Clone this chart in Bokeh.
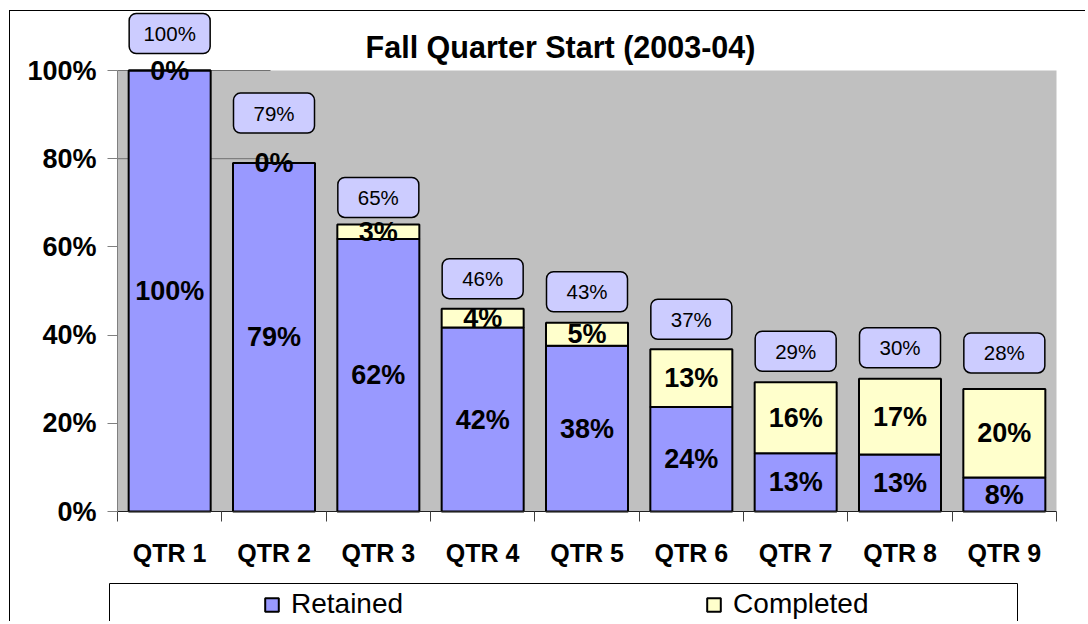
from bokeh.plotting import figure
from bokeh.models import (Range1d, FixedTicker, Label, Legend, LegendItem,
                          BoxAnnotation, ColumnDataSource, PrintfTickFormatter)
from bokeh.core.properties import value
from bokeh.embed import file_html
from bokeh.resources import INLINE

# ---------------- data ----------------
categories = ["QTR 1", "QTR 2", "QTR 3", "QTR 4", "QTR 5", "QTR 6", "QTR 7", "QTR 8", "QTR 9"]
retained = [100, 79, 61.8, 41.7, 37.6, 23.7, 13.2, 12.9, 7.7]
completed = [0, 0, 3.3, 4.3, 5.2, 13.1, 16.1, 17.2, 20.1]
y_ticks = [0, 20, 40, 60, 80, 100]
series_names = ["Retained", "Completed"]
title_text = "Fall Quarter Start (2003-04)"

# ---------------- layout / style constants (pixels) ----------------
FONT = "Liberation Sans"
W, H = 1076, 611                 # canvas size; canvas origin on page = (10, 11)
ORIGIN_X, ORIGIN_Y = 10, 11
PLOT_L, PLOT_R = 117, 1056       # plot area on page
PLOT_T, PLOT_B = 70, 511
N = len(categories)
Y_TOP = max(y_ticks)
UPX = (PLOT_R - PLOT_L) / N      # pixels per x unit
PPU = (PLOT_B - PLOT_T) / Y_TOP  # pixels per y unit


def px_x(px):   # page x pixel -> data x
    return (px - PLOT_L) / UPX


def px_y(py):   # page y pixel -> data y
    return (PLOT_B - py) / PPU


BAR_W = 0.786
BOX_W_PX, BOX_H_PX = 81, 40
callout_offsets_px = [37, 50, 27, 30, 31, 30, 31, 31, 36]

xs = [i + 0.5 for i in range(N)]
totals = [r + c for r, c in zip(retained, completed)]
box_y = [t + o / PPU for t, o in zip(totals, callout_offsets_px)]
half_w = BOX_W_PX / UPX / 2
half_h = BOX_H_PX / PPU / 2

src = ColumnDataSource(dict(
    x=xs,
    retained=retained,
    total=totals,
    ret_mid=[r / 2 for r in retained],
    comp_mid=[r + c / 2 for r, c in zip(retained, completed)],
    ret_lbl=[f"{r:.0f}%" for r in retained],
    comp_lbl=[f"{c:.0f}%" for c in completed],
    tot_lbl=[f"{t:.0f}%" for t in totals],
    box_y=box_y,
    box_l=[x - half_w for x in xs],
    box_r=[x + half_w for x in xs],
    box_b=[b - half_h for b in box_y],
    box_t=[b + half_h for b in box_y],
))

x_range = Range1d(px_x(ORIGIN_X), px_x(ORIGIN_X + W))
y_range = Range1d(px_y(ORIGIN_Y + H), px_y(ORIGIN_Y))

p = figure(width=W, height=H, x_range=x_range, y_range=y_range,
           output_backend="svg", toolbar_location=None, title=None,
           min_border_left=0, min_border_right=0, min_border_top=0, min_border_bottom=0)
p.background_fill_color = "white"
p.border_fill_color = "white"
p.outline_line_color = None
p.xgrid.visible = False
p.ygrid.visible = False
p.styles = {"border-left": "1px solid black", "border-top": "1px solid black",
            "margin-left": "9px", "margin-top": "10px"}

# gray plot area
p.quad(left=[0], right=[N], bottom=[0], top=[Y_TOP], fill_color="#C0C0C0", line_color=None)
# stray gridline stubs at the top left
p.segment(x0=[0, 0], x1=[px_x(270)] * 2, y0=[y_ticks[-1], y_ticks[-2]], y1=[y_ticks[-1], y_ticks[-2]],
          line_color="#707070", line_width=1)

r_ret = p.vbar(x="x", width=BAR_W, bottom=0, top="retained", source=src,
               fill_color="#9999FF", line_color="black", line_width=2)
r_comp = p.vbar(x="x", width=BAR_W, bottom="retained", top="total", source=src,
                fill_color="#FFFFCC", line_color="black", line_width=2)

p.text(x="x", y="ret_mid", text="ret_lbl", source=src, text_font=value(FONT),
       text_font_size="27px", text_font_style="bold", text_align="center",
       text_baseline="middle", text_color="black")
p.text(x="x", y="comp_mid", text="comp_lbl", source=src, text_font=value(FONT),
       text_font_size="27px", text_font_style="bold", text_align="center",
       text_baseline="middle", text_color="black")

# callout boxes with totals
p.quad(left="box_l", right="box_r", bottom="box_b", top="box_t", source=src,
       fill_color="#CCCCFF", line_color="black", line_width=1.5, border_radius=7)
p.text(x="x", y="box_y", text="tot_lbl", source=src, text_font=value(FONT),
       text_font_size="20.5px", text_align="center", text_baseline="middle",
       text_color="black")

# ---------------- axes ----------------
xa = p.xaxis[0]
overrides = {}
for x, c in zip(xs, categories):
    overrides[x] = c
    overrides[str(x)] = c
xa.fixed_location = 0
xa.bounds = (0, N)
xa.ticker = FixedTicker(ticks=xs, minor_ticks=list(range(N + 1)))
xa.major_label_overrides = overrides
xa.major_tick_out = 10
xa.major_tick_in = 0
xa.major_tick_line_color = None
xa.minor_tick_out = 10
xa.minor_tick_in = 0
xa.minor_tick_line_color = "#404040"
xa.axis_line_color = "#202020"
xa.major_label_standoff = 17
xa.major_label_text_font = FONT
xa.major_label_text_font_size = "25px"
xa.major_label_text_font_style = "bold"
xa.major_label_text_color = "black"

ya = p.yaxis[0]
ya.fixed_location = 0
ya.ticker = FixedTicker(ticks=y_ticks)
ya.formatter = PrintfTickFormatter(format="%d%%")
ya.bounds = (0, Y_TOP)
ya.axis_line_color = "#808080"
ya.major_tick_out = 10
ya.major_tick_in = 0
ya.major_tick_line_color = "#808080"
ya.minor_tick_line_color = None
ya.major_label_standoff = 11
ya.major_label_text_font = FONT
ya.major_label_text_font_size = "27px"
ya.major_label_text_font_style = "bold"
ya.major_label_text_color = "black"

# ---------------- title ----------------
p.add_layout(Label(x=px_x(560), y=px_y(46), text=title_text,
                   text_align="center", text_baseline="middle", text_font=FONT,
                   text_font_size="30.5px", text_font_style="bold", text_color="black"))

# ---------------- legend ----------------
p.add_layout(BoxAnnotation(left=px_x(109), right=px_x(1017),
                           top=px_y(583), bottom=px_y(700),
                           fill_color="white", fill_alpha=0,
                           line_color="black", line_width=1, line_alpha=1))
legend = Legend(items=[LegendItem(label=series_names[0], renderers=[r_ret]),
                       LegendItem(label=series_names[1], renderers=[r_comp])],
                orientation="horizontal", location=(263 - 2 - ORIGIN_X, 0), padding=2,
                spacing=302, glyph_width=17, glyph_height=17, label_standoff=11,
                label_text_font=FONT, label_text_font_size="28px", label_text_color="black",
                border_line_alpha=0, background_fill_alpha=0, margin=0)
p.add_layout(legend, "center")

open("out.html", "w").write(file_html(p, INLINE, title="Fall Quarter Start (2003-04)"))
